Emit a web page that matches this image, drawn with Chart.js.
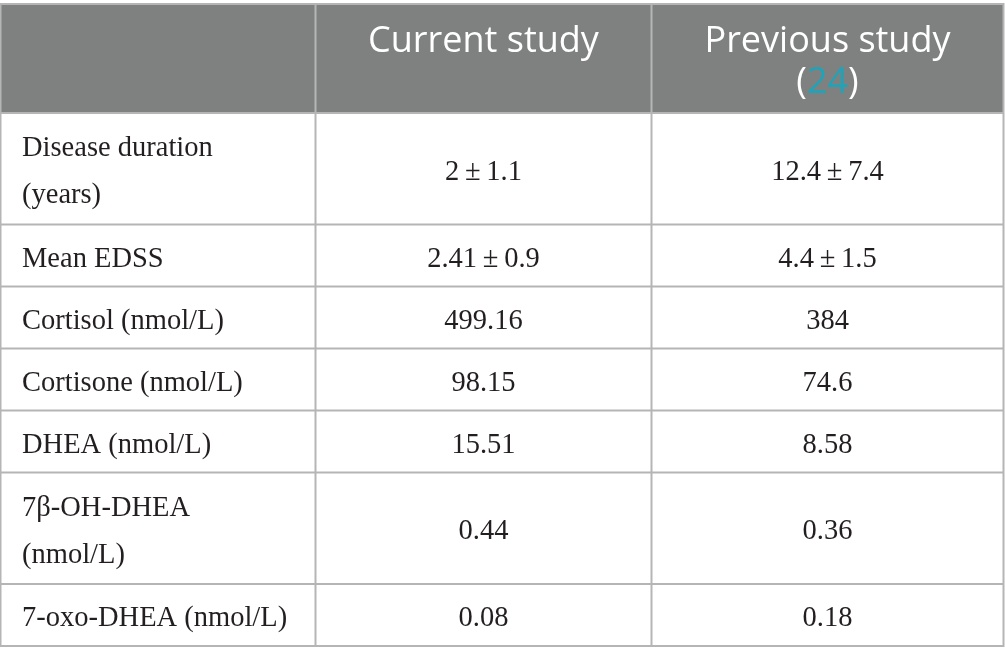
<!DOCTYPE html>
<html>
<head>
<meta charset="utf-8">
<title>Current vs previous study</title>
<script src="https://cdn.jsdelivr.net/npm/chart.js@4/dist/chart.umd.min.js"></script>
<style>
    html, body { margin: 0; padding: 0; background: #ffffff; }
    #wrap { width: 1005px; height: 663px; position: relative; }
</style>
</head>
<body>
<div id="wrap"><canvas id="tablaChart"></canvas></div>
<script>
// Table contents
const columnHeaders = [[''], ['Current study'], ['Previous study']];
const headerRefs = ['', '', '24'];
const rowLabels = [
    ['Disease duration', '(years)'],
    ['Mean EDSS'],
    ['Cortisol (nmol/L)'],
    ['Cortisone (nmol/L)'],
    ['DHEA (nmol/L)'],
    ['7β-OH-DHEA', '(nmol/L)'],
    ['7-oxo-DHEA (nmol/L)']
];
const currentStudy = ['2\u2009±\u20091.1', '2.41\u2009±\u20090.9', '499.16', '98.15', '15.51', '0.44', '0.08'];
const previousStudy = ['12.4\u2009±\u20097.4', '4.4\u2009±\u20091.5', '384', '74.6', '8.58', '0.36', '0.18'];

// Layout (in scale units, same as pixels here)
const colEdges = [0.5, 315.5, 651.5, 1003.5];
const tableTop = 4;
const headerHeight = 109;
const rowPad = 12.5;
const rowLine = 49.5;
const textLine = 47;
const textOffset = 11;
const headerLine = 41;

const headerBg = '#7f8180';
const headerText = '#ffffff';
const refColor = '#1fa3b8';
const gridColor = '#b5b5b5';
const bodyText = '#231f20';
const headerFont = '36px "Open Sans"';
const bodyFont = '28.5px "Liberation Serif"';

// Row edges computed from the number of label lines
function rowEdges() {
    const edges = [tableTop, tableTop + headerHeight];
    let y = tableTop + headerHeight;
    rowLabels.forEach(label => {
        y += rowPad + rowLine * label.length;
        edges.push(y);
    });
    return edges;
}

const tablePlugin = {
    id: 'tablePlugin',
    afterDraw(chart) {
        const ctx = chart.ctx;
        const xs = chart.scales.x;
        const ys = chart.scales.y;
        const edges = rowEdges();
        const px = colEdges.map(v => xs.getPixelForValue(v));
        const py = edges.map(v => ys.getPixelForValue(v));

        ctx.save();
        // header background
        ctx.fillStyle = headerBg;
        ctx.fillRect(px[0], py[0], px[px.length - 1] - px[0], py[1] - py[0]);

        // header text
        ctx.font = headerFont;
        ctx.textBaseline = 'alphabetic';
        columnHeaders.forEach((lines, c) => {
            const cx = (px[c] + px[c + 1]) / 2;
            let base = py[0] + 48;
            lines.forEach(line => {
                ctx.fillStyle = headerText;
                ctx.textAlign = 'center';
                ctx.fillText(line, cx, base);
                base += headerLine;
            });
            if (headerRefs[c]) {
                // "(24)" with the reference number in colour
                const open = '(', close = ')';
                const wOpen = ctx.measureText(open).width;
                const wRef = ctx.measureText(headerRefs[c]).width;
                const wClose = ctx.measureText(close).width;
                let x = cx - (wOpen + wRef + wClose) / 2;
                ctx.textAlign = 'left';
                ctx.fillStyle = headerText;
                ctx.fillText(open, x, base);
                x += wOpen;
                ctx.fillStyle = refColor;
                ctx.fillText(headerRefs[c], x, base);
                x += wRef;
                ctx.fillStyle = headerText;
                ctx.fillText(close, x, base);
            }
        });

        // body text
        ctx.font = bodyFont;
        ctx.fillStyle = bodyText;
        rowLabels.forEach((lines, r) => {
            const mid = (py[r + 1] + py[r + 2]) / 2;
            let base = mid + textOffset - (lines.length - 1) * textLine / 2;
            ctx.textAlign = 'left';
            lines.forEach(line => {
                ctx.fillText(line, px[0] + 21.5, base);
                base += textLine;
            });
            ctx.textAlign = 'center';
            ctx.fillText(currentStudy[r], (px[1] + px[2]) / 2, mid + textOffset);
            ctx.fillText(previousStudy[r], (px[2] + px[3]) / 2, mid + textOffset);
        });

        // grid lines
        ctx.strokeStyle = gridColor;
        ctx.lineWidth = 2;
        ctx.beginPath();
        py.forEach(y => {
            ctx.moveTo(px[0] - 1, y);
            ctx.lineTo(px[px.length - 1] + 1, y);
        });
        px.forEach(x => {
            ctx.moveTo(x, py[0]);
            ctx.lineTo(x, py[py.length - 1]);
        });
        ctx.stroke();
        ctx.restore();
    }
};

const ctx = document.getElementById('tablaChart').getContext('2d');
const tablaChart = new Chart(ctx, {
    type: 'scatter',
    data: { datasets: [] },
    options: {
        responsive: true,
        maintainAspectRatio: false,
        animation: false,
        devicePixelRatio: 1,
        layout: { padding: 0 },
        plugins: { legend: { display: false }, tooltip: { enabled: false } },
        scales: {
            x: { type: 'linear', min: 0, max: 1005, display: false },
            y: { type: 'linear', min: 0, max: 663, reverse: true, display: false }
        }
    },
    plugins: [tablePlugin]
});
</script>
</body>
</html>
